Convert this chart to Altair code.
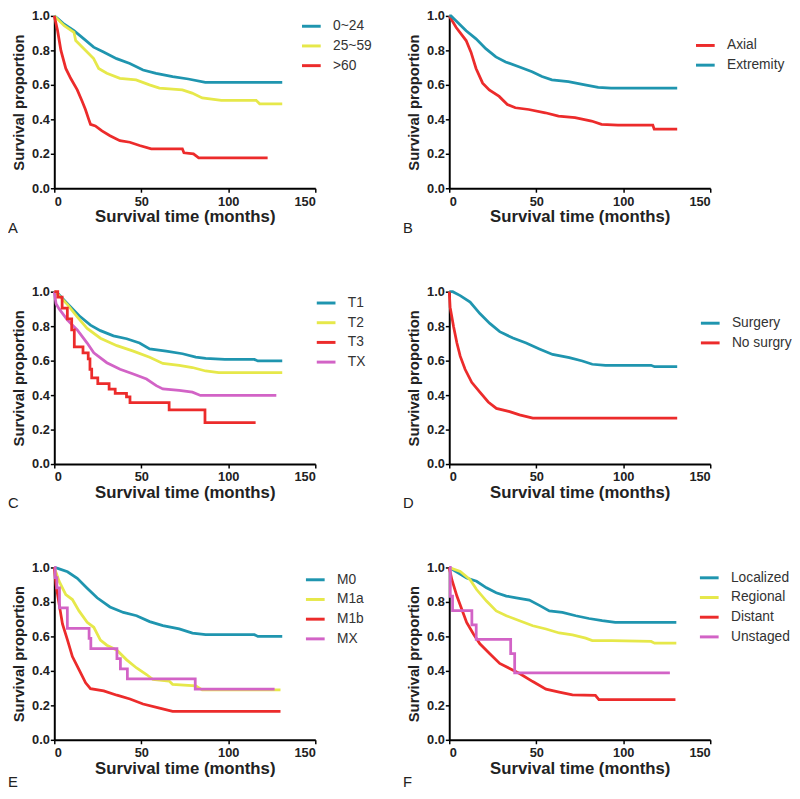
import altair as alt
import pandas as pd

TEAL = "#1F95AF"
YELLOW = "#E6E84A"
RED = "#EC2B2B"
MAGENTA = "#D263C6"

X_TITLE = "Survival time (months)"
Y_TITLE = "Survival proportion"
x_ticks = [0, 50, 100, 150]
y_ticks = [0.0, 0.2, 0.4, 0.6, 0.8, 1.0]

# ---------- Panel A : age ----------
a_groups = ["0~24", "25~59", ">60"]
a_colors = [TEAL, YELLOW, RED]
a_024_t = [0, 2, 5.7, 11.3, 17, 22.6, 28.3, 35.8, 43.4, 51, 58.5, 68, 77, 86.8, 131]
a_024_s = [1, .985, .952, .914, .867, .819, .79, .752, .724, .686, .667, .648, .634, .615, .615]
a_2559_t = [0, 2, 5.7, 11.3, 12.3, 17, 22.6, 25.5, 30.2, 37.7, 47, 54.7, 60.4, 73.6, 79.2, 85, 96, 116, 118, 131]
a_2559_s = [1, .98, .943, .905, .857, .81, .752, .695, .667, .638, .629, .60, .581, .571, .552, .524, .51, .51, .49, .49]
a_60_t = [0, 1.9, 3.8, 6.6, 9.4, 13.2, 16, 17.9, 19.8, 20.8, 23.6, 27.4, 32, 37.7, 43.4, 49, 55.7, 73.6, 74.5, 80, 83, 122.6]
a_60_s = [1, .914, .80, .695, .638, .571, .505, .457, .40, .371, .362, .333, .305, .276, .267, .248, .229, .229, .206, .20, .177, .177]

# ---------- Panel B : location ----------
b_groups = ["Axial", "Extremity"]
b_colors = [RED, TEAL]
b_axial_t = [0, 4, 9.7, 12.5, 15.4, 19.2, 23, 28.7, 33.4, 38, 45.7, 55.2, 62.8, 72.3, 81.8, 87.5, 97, 117, 117.8, 131]
b_axial_s = [1, .933, .857, .79, .695, .61, .571, .533, .486, .467, .457, .438, .419, .41, .39, .371, .366, .366, .343, .343]
b_ext_t = [0, 1, 4, 9.7, 15.4, 21, 26.8, 32.4, 40, 47.6, 53.3, 59, 68.5, 78, 85.6, 93, 131]
b_ext_s = [1, 1, .971, .914, .867, .81, .762, .733, .705, .676, .648, .629, .619, .60, .585, .581, .581]

# ---------- Panel C : T stage ----------
c_groups = ["T1", "T2", "T3", "TX"]
c_colors = [TEAL, YELLOW, RED, MAGENTA]
c_t1_t = [0, 2, 7.6, 15, 20.8, 26.5, 34, 41.6, 49, 54.8, 64.3, 73.7, 81.3, 87, 98, 115, 117, 131]
c_t1_s = [1, .99, .93, .854, .806, .774, .744, .727, .702, .668, .655, .64, .62, .613, .607, .607, .598, .598]
c_t2_t = [0, 2, 7.6, 13.2, 18.9, 26.5, 36, 45.4, 54.8, 62.4, 71.8, 79.4, 87, 94.5, 131]
c_t2_s = [1, .985, .925, .854, .787, .73, .687, .655, .62, .584, .573, .56, .54, .531, .531]
c_t3_t = [0, 2, 4.5, 7.5, 10, 11.5, 16.5, 19.5, 20.5, 21.5, 25, 31.5, 35, 41.5, 43.5, 66, 86.6, 115.7]
c_t3_s = [1, .968, .905, .842, .778, .68, .645, .61, .55, .50, .467, .435, .41, .39, .357, .315, .24, .24]
c_tx_t = [0, 1, 2.8, 7.6, 13.2, 18.9, 22.7, 30.2, 37.8, 45.4, 53, 58.6, 62.4, 71.8, 79.4, 84, 127.6]
c_tx_s = [1, .93, .90, .835, .778, .702, .645, .588, .55, .522, .493, .455, .436, .427, .417, .398, .398]

# ---------- Panel D : surgery ----------
d_groups = ["Surgery", "No surgry"]
d_colors = [TEAL, RED]
d_surg_t = [0, 2, 6.3, 12, 17.6, 23.3, 29, 36.6, 44.2, 51.8, 59.4, 69, 76.5, 82.2, 89.8, 116, 118, 131]
d_surg_s = [1, 1, .977, .94, .873, .816, .768, .731, .702, .668, .636, .617, .598, .579, .573, .573, .565, .565]
d_nos_t = [0, .5, 2.5, 4.4, 6.3, 9.1, 12.9, 17.6, 22.4, 27.1, 34.7, 40.4, 48, 131]
d_nos_s = [1, .91, .797, .702, .626, .55, .474, .417, .36, .323, .304, .285, .266, .266]

# ---------- Panel E : M stage ----------
e_groups = ["M0", "M1a", "M1b", "MX"]
e_colors = [TEAL, YELLOW, RED, MAGENTA]
e_m0_t = [0, 2, 7.6, 13.2, 18.9, 24.6, 32, 39.7, 47.3, 54.8, 62.4, 71.8, 79.4, 87, 115, 117, 131]
e_m0_s = [1, .995, .975, .937, .88, .824, .771, .739, .72, .686, .663, .644, .619, .61, .61, .60, .60]
e_m1a_t = [0, 2.8, 6.6, 10.4, 14.2, 18.9, 22.7, 26.5, 30.2, 36, 41.6, 47.3, 53, 56.7, 66, 68, 81.3, 85, 130]
e_m1a_s = [1, .919, .843, .814, .748, .682, .653, .578, .549, .52, .464, .417, .379, .35, .341, .322, .313, .29, .29]
e_m1b_t = [0, 1, 2.8, 4.7, 7.6, 10.4, 14.2, 18, 20.8, 28.4, 36, 43.5, 51, 60.5, 68, 130]
e_m1b_s = [1, .90, .786, .672, .578, .483, .407, .331, .297, .284, .259, .237, .208, .184, .165, .165]
e_mx_t = [0, .5, 1.5, 3, 7.5, 20, 21, 36, 38, 42, 81, 126.6]
e_mx_s = [1, .941, .882, .765, .647, .588, .529, .471, .412, .353, .294, .294]

# ---------- Panel F : SEER stage ----------
f_groups = ["Localized", "Regional", "Distant", "Unstaged"]
f_colors = [TEAL, YELLOW, RED, MAGENTA]
f_loc_t = [0, 5.3, 10, 15.7, 21.4, 27, 32.8, 38.5, 46, 51.8, 57.5, 65, 72.7, 80.3, 87.9, 95.4, 130.5]
f_loc_s = [1, .968, .939, .92, .882, .853, .834, .824, .811, .78, .748, .739, .72, .704, .691, .681, .681]
f_reg_t = [0, 6.3, 12, 15.7, 21.4, 27, 32.8, 40.4, 48, 55.6, 63.2, 70.8, 78.4, 82.2, 93.5, 116, 118, 130.5]
f_reg_s = [1, .977, .929, .872, .805, .748, .72, .691, .662, .643, .62, .609, .59, .576, .576, .571, .561, .561]
f_dis_t = [0, 1.5, 4.4, 7.2, 10, 13.9, 17.6, 23.3, 29, 34.7, 40.4, 48, 55.6, 63.2, 70.8, 84, 86, 130]
f_dis_s = [1, .929, .834, .758, .681, .614, .557, .50, .443, .414, .385, .338, .294, .277, .261, .258, .233, .233]
f_uns_t = [0, .6, 1.9, 13, 15.5, 35.3, 37.6, 126.8]
f_uns_s = [1, .833, .75, .667, .583, .5, .389, .389]

FONT = "Liberation Sans"


def panel(letter, groups, colors, series, lx, ly, letter_y=215):
    smooth_rows, step_rows = [], []
    for name, ts, ss, is_step in series:
        rows = step_rows if is_step else smooth_rows
        for t, s in zip(ts, ss):
            rows.append({"t": t, "s": s, "group": name})
    color = alt.Color(
        "group:N",
        scale=alt.Scale(domain=groups, range=colors),
        sort=groups,
        legend=alt.Legend(
            orient="none", legendX=lx, legendY=ly, title=None,
            symbolType="stroke", symbolSize=361, symbolStrokeWidth=3,
            labelFontSize=14, labelFont=FONT, labelColor="#333333",
            rowPadding=2, labelOffset=11, padding=0,
        ),
    )
    x = alt.X("t:Q", scale=alt.Scale(domain=[0, 150], nice=False),
              axis=alt.Axis(values=x_ticks, title=X_TITLE, labelPadding=3,
                            titlePadding=1, titleFontSize=17))
    y = alt.Y("s:Q", scale=alt.Scale(domain=[0, 1], nice=False),
              axis=alt.Axis(values=y_ticks, format=".1f", title=Y_TITLE,
                            labelPadding=1, titlePadding=5, titleFontSize=15))
    layers = []
    if smooth_rows:
        layers.append(alt.Chart(pd.DataFrame(smooth_rows)).mark_line(
            strokeWidth=2.8, interpolate="linear").encode(x=x, y=y, color=color,
                                                          detail="group:N"))
    if step_rows:
        layers.append(alt.Chart(pd.DataFrame(step_rows)).mark_line(
            strokeWidth=2.8, interpolate="step-after").encode(x=x, y=y, color=color,
                                                              detail="group:N"))
    lab = alt.Chart(pd.DataFrame({"letter": [letter]})).mark_text(
        align="left", baseline="middle", fontSize=15, font=FONT, color="#222222"
    ).encode(x=alt.value(-47), y=alt.value(letter_y), text="letter:N")
    layers.append(lab)
    return alt.layer(*layers).properties(width=265, height=175)


pA = panel("A", a_groups, a_colors, [
    ("0~24", a_024_t, a_024_s, False),
    ("25~59", a_2559_t, a_2559_s, False),
    (">60", a_60_t, a_60_s, False)], 250, -0.5)
pB = panel("B", b_groups, b_colors, [
    ("Axial", b_axial_t, b_axial_s, False),
    ("Extremity", b_ext_t, b_ext_s, False)], 249, 19)
pC = panel("C", c_groups, c_colors, [
    ("T1", c_t1_t, c_t1_s, False),
    ("T2", c_t2_t, c_t2_s, False),
    ("TX", c_tx_t, c_tx_s, False),
    ("T3", c_t3_t, c_t3_s, True)], 265, 0.5)
pD = panel("D", d_groups, d_colors, [
    ("Surgery", d_surg_t, d_surg_s, False),
    ("No surgry", d_nos_t, d_nos_s, False)], 254, 21)
pE = panel("E", e_groups, e_colors, [
    ("M0", e_m0_t, e_m0_s, False),
    ("M1a", e_m1a_t, e_m1a_s, False),
    ("M1b", e_m1b_t, e_m1b_s, False),
    ("MX", e_mx_t, e_mx_s, True)], 254, 1.5, 218)
pF = panel("F", f_groups, f_colors, [
    ("Localized", f_loc_t, f_loc_s, False),
    ("Regional", f_reg_t, f_reg_s, False),
    ("Distant", f_dis_t, f_dis_s, False),
    ("Unstaged", f_uns_t, f_uns_s, True)], 253, -0.5, 218)

chart = alt.concat(pA, pB, pC, pD, pE, pF, columns=2,
                   spacing={"row": 51, "column": 31}).resolve_scale(
    color="independent"
).properties(padding={"top": -4, "left": 0, "right": 0, "bottom": 0}
).configure_view(stroke=None).configure_axis(
    grid=False, domainColor="black", domainWidth=2, tickColor="black",
    tickWidth=1.5, tickSize=4, labelFont=FONT, labelFontWeight="bold",
    labelFontSize=13, labelColor="#222222", titleFont=FONT,
    titleFontWeight="bold", titleColor="#222222",
)

chart.save("out.html", embed_options={"renderer": "svg", "actions": False})
